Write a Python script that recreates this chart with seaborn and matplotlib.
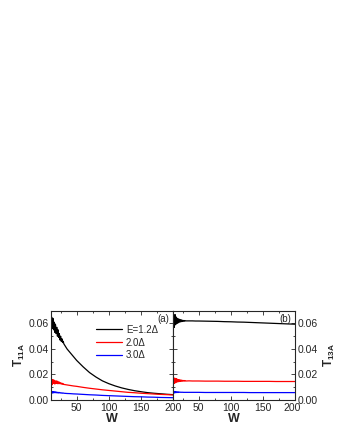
import numpy as np
import pandas as pd
import seaborn as sns
import matplotlib.pyplot as plt
import matplotlib.transforms as mtransforms
from matplotlib.ticker import MultipleLocator

sns.set_style('ticks')
plt.rcParams['font.family'] = ['Liberation Sans', 'DejaVu Sans']
plt.rcParams['axes.unicode_minus'] = False
plt.rcParams['mathtext.fontset'] = 'custom'
plt.rcParams['mathtext.rm'] = 'Liberation Sans:bold'

# 数据
W = [10, 11, 12, 13, 14, 15, 16, 17, 18, 19, 20, 21, 22, 23, 24, 25, 26, 27, 28, 29, 30,
     35, 40, 45, 50, 60, 70, 80, 90, 100, 110, 120, 130, 140, 150, 160, 170, 180, 190, 200]
labels = ['E=1.2Δ', '2.0Δ', '3.0Δ']
colors = ['black', 'red', 'blue']

# (a) T11A
t11_12 = [0.058, 0.065, 0.056, 0.064, 0.055, 0.061, 0.053, 0.059, 0.052, 0.057, 0.050,
          0.055, 0.049, 0.052, 0.047, 0.050, 0.046, 0.048, 0.045, 0.046, 0.044,
          0.040, 0.037, 0.034, 0.031, 0.026, 0.0215, 0.018, 0.015, 0.0128, 0.011,
          0.0095, 0.0083, 0.0073, 0.0065, 0.0058, 0.0053, 0.0049, 0.0045, 0.0042]
t11_20 = [0.013, 0.016, 0.012, 0.016, 0.013, 0.0155, 0.0125, 0.015, 0.013, 0.015, 0.0128,
          0.0145, 0.0128, 0.014, 0.0127, 0.0135, 0.0125, 0.0132, 0.0123, 0.0128, 0.0122,
          0.0118, 0.0114, 0.011, 0.0107, 0.0099, 0.0092, 0.0086, 0.008, 0.0075, 0.007,
          0.0065, 0.006, 0.0057, 0.0053, 0.005, 0.0047, 0.0044, 0.0042, 0.004]
t11_30 = [0.0055, 0.0068, 0.0054, 0.0066, 0.0056, 0.0065, 0.0057, 0.0064, 0.0056, 0.0062, 0.0056,
          0.006, 0.0055, 0.0059, 0.0055, 0.0057, 0.0054, 0.0056, 0.0053, 0.0055, 0.0053,
          0.0051, 0.005, 0.0048, 0.0047, 0.0044, 0.0041, 0.0039, 0.0036, 0.0034, 0.0032,
          0.003, 0.0028, 0.0026, 0.0025, 0.0023, 0.0022, 0.002, 0.0019, 0.0018]

# (b) T13A
t13_12 = [0.051, 0.066, 0.057, 0.067, 0.059, 0.065, 0.060, 0.064, 0.0605, 0.0635, 0.061,
          0.063, 0.0612, 0.0628, 0.0615, 0.0625, 0.0617, 0.0623, 0.0618, 0.0622, 0.062,
          0.062, 0.062, 0.0619, 0.0619, 0.0618, 0.0617, 0.0616, 0.0614, 0.0613, 0.0611,
          0.061, 0.0608, 0.0606, 0.0604, 0.0602, 0.06, 0.0598, 0.0596, 0.0594]
t13_20 = [0.012, 0.0175, 0.013, 0.017, 0.0135, 0.0168, 0.014, 0.0163, 0.0143, 0.016, 0.0145,
          0.0158, 0.0146, 0.0156, 0.0147, 0.0154, 0.0148, 0.0153, 0.0148, 0.0152, 0.0149,
          0.015, 0.0149, 0.0149, 0.0149, 0.0148, 0.0148, 0.0148, 0.0147, 0.0147, 0.0147,
          0.0146, 0.0146, 0.0146, 0.0146, 0.0146, 0.0145, 0.0145, 0.0145, 0.0145]
t13_30 = [0.005, 0.0068, 0.0055, 0.0067, 0.0057, 0.0065, 0.0058, 0.0064, 0.0059, 0.0063, 0.006,
          0.0062, 0.006, 0.0061, 0.006, 0.0061, 0.006, 0.006, 0.006, 0.006, 0.006,
          0.006, 0.006, 0.006, 0.006, 0.0059, 0.0059, 0.0059, 0.0059, 0.0059, 0.0059,
          0.0059, 0.0058, 0.0058, 0.0058, 0.0058, 0.0058, 0.0058, 0.0058, 0.0058]


def long_df(series):
    parts = []
    for lab, vals in zip(labels, series):
        parts.append(pd.DataFrame({'W': W, 'T': vals, 'E': lab}))
    return pd.concat(parts, ignore_index=True)


df_a = long_df([t11_12, t11_20, t11_30])
df_b = long_df([t13_12, t13_20, t13_30])
pal = dict(zip(labels, colors))

fig = plt.figure(figsize=(3.4, 4.4), dpi=100)
ax1 = fig.add_axes([0.15, 0.0909, 0.359, 0.203])
ax2 = fig.add_axes([0.509, 0.0909, 0.359, 0.203])

sns.lineplot(data=df_a, x='W', y='T', hue='E', palette=pal, lw=0.9, ax=ax1)
sns.lineplot(data=df_b, x='W', y='T', hue='E', palette=pal, lw=0.9, ax=ax2, legend=False)

for ax in (ax1, ax2):
    ax.set_xlim(10, 200)
    ax.set_ylim(0, 0.07)
    ax.xaxis.set_major_locator(MultipleLocator(50))
    ax.xaxis.set_minor_locator(MultipleLocator(25))
    ax.yaxis.set_major_locator(MultipleLocator(0.02))
    ax.yaxis.set_minor_locator(MultipleLocator(0.01))
    ax.tick_params(which='both', direction='in', top=True, right=True, left=True,
                   labelsize=7.5, width=0.6, pad=1.5)
    ax.tick_params(axis='x', pad=2.5)
    ax.tick_params(which='major', length=3)
    ax.tick_params(which='minor', length=1.5)
    for s in ax.spines.values():
        s.set_linewidth(0.8)
    ax.set_xlabel('W', fontsize=9, fontweight='bold', labelpad=0)
    ax.yaxis.set_major_formatter(plt.FormatStrFormatter('%.2f'))

ax2.tick_params(axis='y', pad=2)
ax1.set_ylabel('T$_{\\mathrm{11A}}$', fontsize=8.5, fontweight='bold', labelpad=1)
ax2.yaxis.set_label_position('right')
ax2.tick_params(labelleft=False, labelright=True)
ax2.set_ylabel('T$_{\\mathrm{13A}}$', fontsize=8.5, fontweight='bold', labelpad=3, rotation=90)

# 200 和右侧 0.00 挨得太近, 往左挪一点
fig.canvas.draw()
for lab in ax2.get_xticklabels():
    if lab.get_text() == '200':
        lab.set_transform(lab.get_transform() + mtransforms.ScaledTranslation(-3 / 100, 0, fig.dpi_scale_trans))

ax1.text(0.97, 0.96, '(a)', transform=ax1.transAxes, ha='right', va='top', fontsize=7)
ax2.text(0.97, 0.96, '(b)', transform=ax2.transAxes, ha='right', va='top', fontsize=7)

leg = ax1.legend(loc='upper left', bbox_to_anchor=(0.31, 0.92), frameon=False, fontsize=7,
                 handlelength=2.7, handletextpad=0.4, labelspacing=0.3, borderpad=0.2)
for h in leg.get_lines():
    h.set_linewidth(0.9)

fig.savefig('out.png', dpi=100)
